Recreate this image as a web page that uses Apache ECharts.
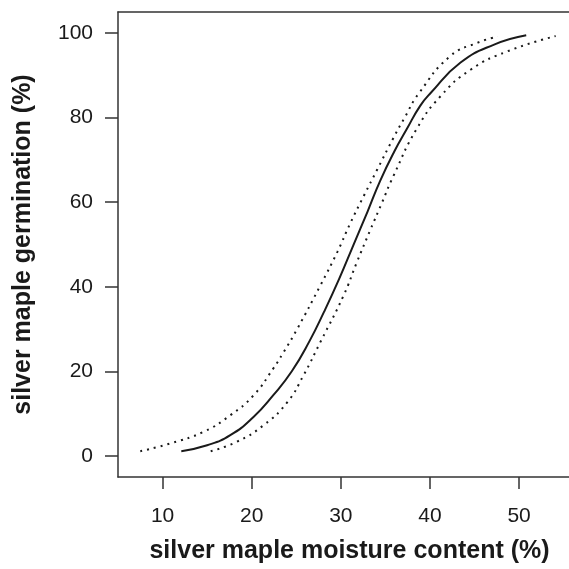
<!DOCTYPE html>
<html>
<head>
<meta charset="utf-8">
<script src="https://cdn.jsdelivr.net/npm/echarts@6/dist/echarts.min.js"></script>
<style>
  html, body { margin: 0; padding: 0; background: #fff; }
  #chart { width: 569px; height: 569px; }
</style>
</head>
<body>
<div id="chart"></div>
<script>
// fitted germination curve
const fitX = [12.1, 15.0, 17.6, 20.2, 22.4, 24.5, 26.5, 28.1, 29.8, 31.4, 33.0, 34.4, 36.0, 37.4, 38.9, 40.1, 43.4, 47.2, 50.8];
const fitY = [1.1, 2.5, 4.9, 9.2, 14.3, 20.0, 27.2, 34.0, 41.8, 49.8, 57.8, 65.0, 72.0, 77.3, 82.8, 85.9, 93.0, 97.3, 99.5];

// upper (left) confidence band
const upperX = [7.5, 10.8, 14.6, 17.6, 20.2, 22.4, 23.6, 25.1, 27.7, 29.6, 31.1, 32.6, 34.1, 35.9, 37.1, 38.8, 42.3, 45.3, 47.6];
const upperY = [1.1, 2.9, 5.7, 9.6, 14.3, 20.6, 24.6, 30.0, 40.3, 48.2, 55.2, 61.6, 67.8, 75.2, 79.8, 85.9, 94.6, 97.7, 99.2];

// lower (right) confidence band
const lowerX = [15.4, 18.3, 21.3, 24.0, 25.8, 27.7, 30.3, 31.8, 33.3, 34.6, 35.9, 38.5, 41.2, 44.6, 48.7, 54.1];
const lowerY = [1.1, 3.3, 7.2, 12.7, 19.0, 26.9, 37.9, 45.8, 53.4, 59.8, 66.2, 77.3, 85.1, 91.4, 95.7, 99.3];

const xTicks = [10, 20, 30, 40, 50];
const yTicks = [0, 20, 40, 60, 80, 100];

const FONT = '"Liberation Sans", Arial, Helvetica, sans-serif';
const INK = '#1a1a1a';

function pairs(xs, ys) {
  return xs.map((x, i) => [x, ys[i]]);
}

const chart = echarts.init(document.getElementById('chart'));

const option = {
  backgroundColor: '#fff',
  animation: false,
  grid: { left: 118, right: 0, top: 12, bottom: 91 },
  xAxis: [
    {
      type: 'value',
      position: 'bottom',
      min: 5,
      max: 55.6,
      name: 'silver maple moisture content (%)',
      nameLocation: 'middle',
      nameGap: 62,
      nameTextStyle: { fontFamily: FONT, fontWeight: 'bold', fontSize: 25, color: INK, padding: [0, 0, 0, 12] },
      axisLine: { show: true, onZero: false, lineStyle: { color: '#333', width: 1.5 } },
      axisTick: { show: true, length: 12, customValues: xTicks, lineStyle: { color: '#333', width: 1.5 } },
      axisLabel: { customValues: xTicks, margin: 29, fontFamily: FONT, fontSize: 21, color: INK },
      splitLine: { show: false }
    },
    {
      // top border of the box
      type: 'value',
      position: 'top',
      min: 5,
      max: 55.6,
      axisLine: { show: true, onZero: false, lineStyle: { color: '#333', width: 1.5 } },
      axisTick: { show: false },
      axisLabel: { show: false },
      splitLine: { show: false }
    }
  ],
  yAxis: {
    type: 'value',
    min: -5,
    max: 105,
    name: 'silver maple germination (%)',
    nameLocation: 'middle',
    nameGap: 82,
    nameRotate: 90,
    nameTextStyle: { fontFamily: FONT, fontWeight: 'bold', fontSize: 25, color: INK },
    axisLine: { show: true, onZero: false, lineStyle: { color: '#333', width: 1.5 } },
    axisTick: { show: true, length: 13, customValues: yTicks, lineStyle: { color: '#333', width: 1.5 } },
    axisLabel: { customValues: yTicks, margin: 25, fontFamily: FONT, fontSize: 21, color: INK },
    splitLine: { show: false }
  },
  series: [
    {
      name: 'fit',
      type: 'line',
      data: pairs(fitX, fitY),
      smooth: 0.5,
      showSymbol: false,
      lineStyle: { color: INK, width: 2 }
    },
    {
      name: 'upper',
      type: 'line',
      data: pairs(upperX, upperY),
      smooth: 0.5,
      showSymbol: false,
      lineStyle: { color: INK, width: 2, type: [2, 5] }
    },
    {
      name: 'lower',
      type: 'line',
      data: pairs(lowerX, lowerY),
      smooth: 0.5,
      showSymbol: false,
      lineStyle: { color: INK, width: 2, type: [2, 5] }
    }
  ]
};

chart.setOption(option);
</script>
</body>
</html>
